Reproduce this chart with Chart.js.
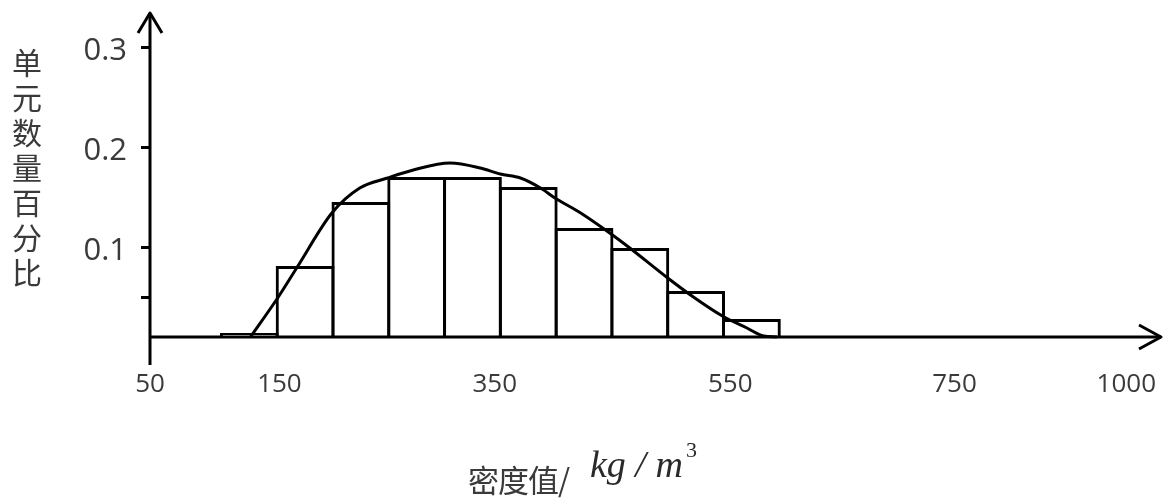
<!DOCTYPE html>
<html><head><meta charset="utf-8">
<script src="https://cdn.jsdelivr.net/npm/chart.js@4"></script>
<style>
html,body{margin:0;padding:0;background:#fff;}
#wrap{position:relative;width:1168px;height:500px;overflow:hidden;}
#c{position:absolute;left:0;top:0;}
#ytitle{position:absolute;left:11px;top:48px;width:32px;font-family:"Noto Sans CJK SC";font-size:30px;color:#3a3a3a;writing-mode:vertical-rl;text-orientation:upright;letter-spacing:5px;line-height:32px;white-space:nowrap;}
#xt1{position:absolute;left:468px;top:463px;font-family:"Noto Sans CJK SC";font-size:31px;line-height:31px;color:#3a3a3a;white-space:nowrap;letter-spacing:-1px;}
#xt2{position:absolute;left:590px;top:445px;font-family:"Liberation Serif";font-style:italic;font-size:38px;line-height:38px;color:#2a2a2a;white-space:nowrap;}
#xt3{position:absolute;left:686px;top:439px;font-family:"Liberation Serif";font-size:22px;line-height:22px;color:#2a2a2a;}
</style></head>
<body>
<div id="wrap">
<canvas id="c" width="1168" height="500"></canvas>
<div id="ytitle">单元数量百分比</div>
<div id="xt1">密度值/</div>
<div id="xt2">kg / m</div>
<div id="xt3">3</div>
</div>
<script>
// histogram bins (centre of each 50 kg/m3 bin) and their shares
const binCenters = [125, 175, 225, 275, 325, 375, 425, 475, 525, 575];
const binShares  = [0.014, 0.081, 0.145, 0.170, 0.170, 0.160, 0.119, 0.099, 0.056, 0.028];
// fitted curve
const curveX = [126, 151, 168, 199, 224, 249, 272, 305, 332, 350, 368, 386, 399, 422, 448, 466, 500, 523, 549, 571, 586, 598];
const curveY = [0.010, 0.050, 0.080, 0.134, 0.159, 0.169, 0.177, 0.184, 0.179, 0.173, 0.169, 0.159, 0.149, 0.134, 0.114, 0.099, 0.069, 0.050, 0.031, 0.019, 0.011, 0.010];
// axis ticks
const xTickValues = [36, 152, 345, 556, 757, 911];
const xTickLabels = ['50', '150', '350', '550', '750', '1000'];
const yTickValues = [0.05, 0.1, 0.2, 0.3];
const yTickLabels = ['', '0.1', '0.2', '0.3'];

const axisPlugin = {
  id: 'arrowAxes',
  afterDatasetsDraw(chart) {
    const ctx = chart.ctx, a = chart.chartArea;
    ctx.save();
    ctx.strokeStyle = '#000';
    ctx.lineWidth = 3;
    ctx.lineJoin = 'round';
    ctx.lineCap = 'butt';
    ctx.beginPath(); ctx.moveTo(a.left, a.bottom + 28); ctx.lineTo(a.left, a.top + 1); ctx.stroke();
    ctx.beginPath(); ctx.moveTo(a.left - 12, a.top + 21); ctx.lineTo(a.left, a.top + 1); ctx.lineTo(a.left + 12, a.top + 21); ctx.stroke();
    ctx.beginPath(); ctx.moveTo(a.left, a.bottom); ctx.lineTo(a.right - 1, a.bottom); ctx.stroke();
    ctx.beginPath(); ctx.moveTo(a.right - 23, a.bottom - 12); ctx.lineTo(a.right - 1, a.bottom); ctx.lineTo(a.right - 23, a.bottom + 12); ctx.stroke();
    ctx.restore();
  }
};

new Chart(document.getElementById('c'), {
  type: 'bar',
  data: {
    datasets: [
      {
        type: 'line',
        data: curveX.map((x, i) => ({x: x, y: curveY[i]})),
        borderColor: '#000', borderWidth: 3, pointRadius: 0,
        tension: 0.4, cubicInterpolationMode: 'monotone', fill: false,
        order: 1, clip: false
      },
      {
        type: 'bar',
        data: binCenters.map((x, i) => ({x: x, y: binShares[i]})),
        base: 0.01,
        backgroundColor: 'rgba(255,255,255,0)',
        borderColor: '#000', borderWidth: 3, borderSkipped: 'start',
        barPercentage: 1.054, categoryPercentage: 1, inflateAmount: 0,
        order: 2
      }
    ]
  },
  options: {
    responsive: false, animation: false, devicePixelRatio: 1, events: [],
    layout: {padding: {top: 12, right: 6, left: 0, bottom: 0}},
    plugins: {legend: {display: false}, tooltip: {enabled: false}},
    scales: {
      x: {
        type: 'linear', min: 36, max: 943, offset: false, bounds: 'data',
        grid: {display: false, drawTicks: false},
        border: {display: false},
        afterBuildTicks: s => { s.ticks = xTickValues.map(v => ({value: v})); },
        ticks: {autoSkip: false, maxRotation: 0, minRotation: 0, padding: 32, color: '#3a3a3a',
                font: {family: 'Open Sans', size: 26}, callback: (v, i) => xTickLabels[i]},
        afterFit: s => { s.height = 163; s.paddingLeft = 0; s.paddingRight = 0; }
      },
      y: {
        type: 'linear', min: 0.01, max: 0.335, bounds: 'data',
        grid: {display: true, drawOnChartArea: false, drawTicks: true, tickLength: 9, tickWidth: 3, tickColor: '#000', color: '#000'},
        border: {display: false},
        afterBuildTicks: s => { s.ticks = yTickValues.map(v => ({value: v})); },
        ticks: {autoSkip: false, padding: 14, color: '#3a3a3a', labelOffset: 4,
                font: {family: 'Open Sans', size: 31}, callback: (v, i) => yTickLabels[i]},
        afterFit: s => { s.width = 150; s.paddingTop = 0; s.paddingBottom = 0; }
      }
    }
  },
  plugins: [axisPlugin]
});
</script>
</body></html>
